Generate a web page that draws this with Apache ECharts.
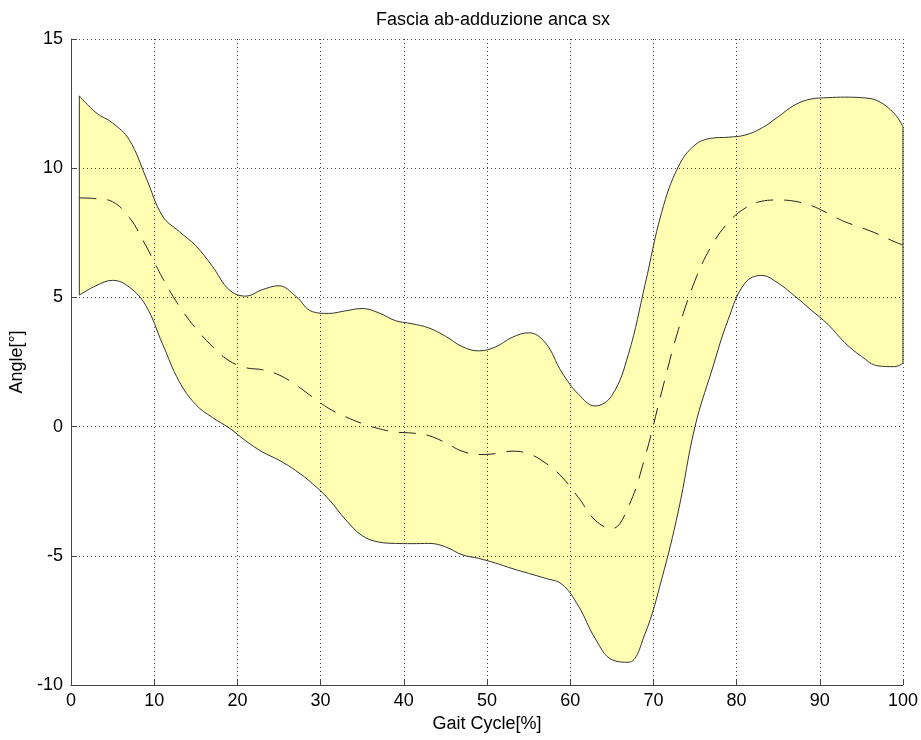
<!DOCTYPE html>
<html>
<head>
<meta charset="utf-8">
<script src="https://cdn.jsdelivr.net/npm/echarts@6/dist/echarts.min.js"></script>
<style>
  html, body { margin: 0; padding: 0; background: #fff; }
  #chart { width: 921px; height: 740px; }
</style>
</head>
<body>
<div id="chart"></div>
<script>
// gait cycle percentage at which the curves are sampled
var gaitPct = [1, 3, 5, 7, 9, 11, 13, 15, 17, 19, 21, 23, 25, 27, 29, 31, 33, 35, 37, 39,
               41, 43, 45, 47, 49, 51, 53, 55, 57, 59, 61, 63, 65, 67, 69, 71, 73, 75, 77, 79,
               81, 83, 85, 87, 89, 91, 93, 95, 97, 99, 100];

// upper limit of the band
var upperBand = [12.8, 12.15, 11.75, 11.1, 9.65, 8.15, 7.55, 7.0, 6.2, 5.3,
                 5.05, 5.3, 5.45, 5.05, 4.45, 4.38, 4.48, 4.57, 4.4, 4.1,
                 3.98, 3.82, 3.5, 3.1, 2.93, 3.08, 3.45, 3.63, 3.25, 2.1,
                 1.25, 0.8, 1.2, 2.8, 5.5, 8.3, 10.06, 10.9, 11.16, 11.2,
                 11.28, 11.55, 11.99, 12.45, 12.68, 12.73, 12.75, 12.73, 12.6, 12.1, 11.6];

// lower limit of the band
var lowerBand = [5.09, 5.45, 5.66, 5.4, 4.68, 3.2, 1.75, 0.85, 0.35, -0.05,
                 -0.55, -0.98, -1.3, -1.7, -2.2, -2.82, -3.6, -4.22, -4.47, -4.52,
                 -4.53, -4.52, -4.65, -4.96, -5.1, -5.28, -5.49, -5.68, -5.87, -6.1,
                 -6.95, -8.2, -9.02, -9.12, -8.01, -5.9, -3.27, 0.0, 2.15, 4.15,
                 5.55, 5.85, 5.55, 5.05, 4.5, 3.95, 3.25, 2.72, 2.35, 2.32, 2.45];

// mean curve (dashed)
var meanCurve = [8.85, 8.82, 8.7, 8.1, 7.0, 5.75, 4.67, 3.8, 3.1, 2.55,
                 2.28, 2.2, 2.0, 1.62, 1.15, 0.7, 0.38, 0.12, -0.08, -0.21,
                 -0.25, -0.35, -0.62, -0.95, -1.08, -1.05, -0.95, -1.05, -1.4, -1.95,
                 -2.75, -3.62, -3.95, -3.1, -1.17, 1.35, 3.75, 5.65, 7.0, 7.9,
                 8.45, 8.72, 8.77, 8.72, 8.55, 8.25, 7.93, 7.7, 7.45, 7.15, 7.03];

var xTicks = [0, 10, 20, 30, 40, 50, 60, 70, 80, 90, 100];
var yTicks = [-10, -5, 0, 5, 10, 15];

function pairs(ys) {
    return gaitPct.map(function (x, i) { return [x, ys[i]]; });
}

var last = gaitPct.length - 1;
var fontFam = 'Liberation Sans, Arial, sans-serif';
var smoothK = 0.4;
var outline = { color: '#333', width: 1 };

var myChart = echarts.init(document.getElementById('chart'));

myChart.setOption({
    animation: false,
    title: {
        text: 'Fascia ab-adduzione anca sx',
        left: 488,
        top: 6,
        textAlign: 'center',
        textStyle: { fontFamily: fontFam, fontSize: 18, fontWeight: 'normal', color: '#000' }
    },
    grid: { left: 71, right: 15, top: 39, bottom: 55 },
    xAxis: {
        type: 'value',
        min: xTicks[0],
        max: xTicks[xTicks.length - 1],
        interval: 10,
        z: 3,
        name: 'Gait Cycle[%]',
        nameLocation: 'middle',
        nameGap: 30,
        nameTextStyle: { fontFamily: fontFam, fontSize: 18, color: '#000' },
        axisLine: { onZero: false, lineStyle: { color: '#444', width: 1 } },
        axisTick: { inside: true, length: 6, lineStyle: { color: '#444' } },
        axisLabel: { fontFamily: fontFam, fontSize: 18, color: '#000', margin: 7 },
        splitLine: { show: true, lineStyle: { color: '#444', type: [1, 3], width: 1 } }
    },
    yAxis: {
        type: 'value',
        min: yTicks[0],
        max: yTicks[yTicks.length - 1],
        interval: 5,
        z: 3,
        name: 'Angle[°]',
        nameLocation: 'middle',
        nameGap: 45,
        nameRotate: 90,
        nameTextStyle: { fontFamily: fontFam, fontSize: 18, color: '#000' },
        axisLine: { show: true, onZero: false, lineStyle: { color: '#444', width: 1 } },
        axisTick: { show: true, inside: true, length: 6, lineStyle: { color: '#444' } },
        axisLabel: { fontFamily: fontFam, fontSize: 18, color: '#000', margin: 8 },
        splitLine: { show: true, lineStyle: { color: '#444', type: [1, 3], width: 1 } }
    },
    series: [
        {
            // yellow from the upper limit down to the bottom of the axis
            name: 'fascia',
            type: 'line',
            data: pairs(upperBand),
            smooth: smoothK,
            symbol: 'none',
            lineStyle: { width: 0, opacity: 0 },
            areaStyle: { color: '#ffffb3', opacity: 1, origin: 'start' },
            z: 1
        },
        {
            // white below the lower limit, leaving only the band yellow
            name: 'mask',
            type: 'line',
            data: pairs(lowerBand),
            smooth: smoothK,
            symbol: 'none',
            lineStyle: { width: 0, opacity: 0 },
            areaStyle: { color: '#ffffff', opacity: 1, origin: 'start' },
            z: 2
        },
        {
            name: 'upper',
            type: 'line',
            data: pairs(upperBand),
            smooth: smoothK,
            symbol: 'none',
            lineStyle: outline,
            z: 5
        },
        {
            name: 'lower',
            type: 'line',
            data: pairs(lowerBand),
            smooth: smoothK,
            symbol: 'none',
            lineStyle: outline,
            z: 5
        },
        {
            name: 'startEdge',
            type: 'line',
            data: [[gaitPct[0], lowerBand[0]], [gaitPct[0], upperBand[0]]],
            symbol: 'none',
            lineStyle: outline,
            z: 5
        },
        {
            name: 'endEdge',
            type: 'line',
            data: [[gaitPct[last], lowerBand[last]], [gaitPct[last], upperBand[last]]],
            symbol: 'none',
            lineStyle: outline,
            z: 5
        },
        {
            name: 'media',
            type: 'line',
            data: pairs(meanCurve),
            smooth: smoothK,
            symbol: 'none',
            lineStyle: { color: '#222', width: 1, type: [17, 11] },
            z: 5
        }
    ]
});
</script>
</body>
</html>
